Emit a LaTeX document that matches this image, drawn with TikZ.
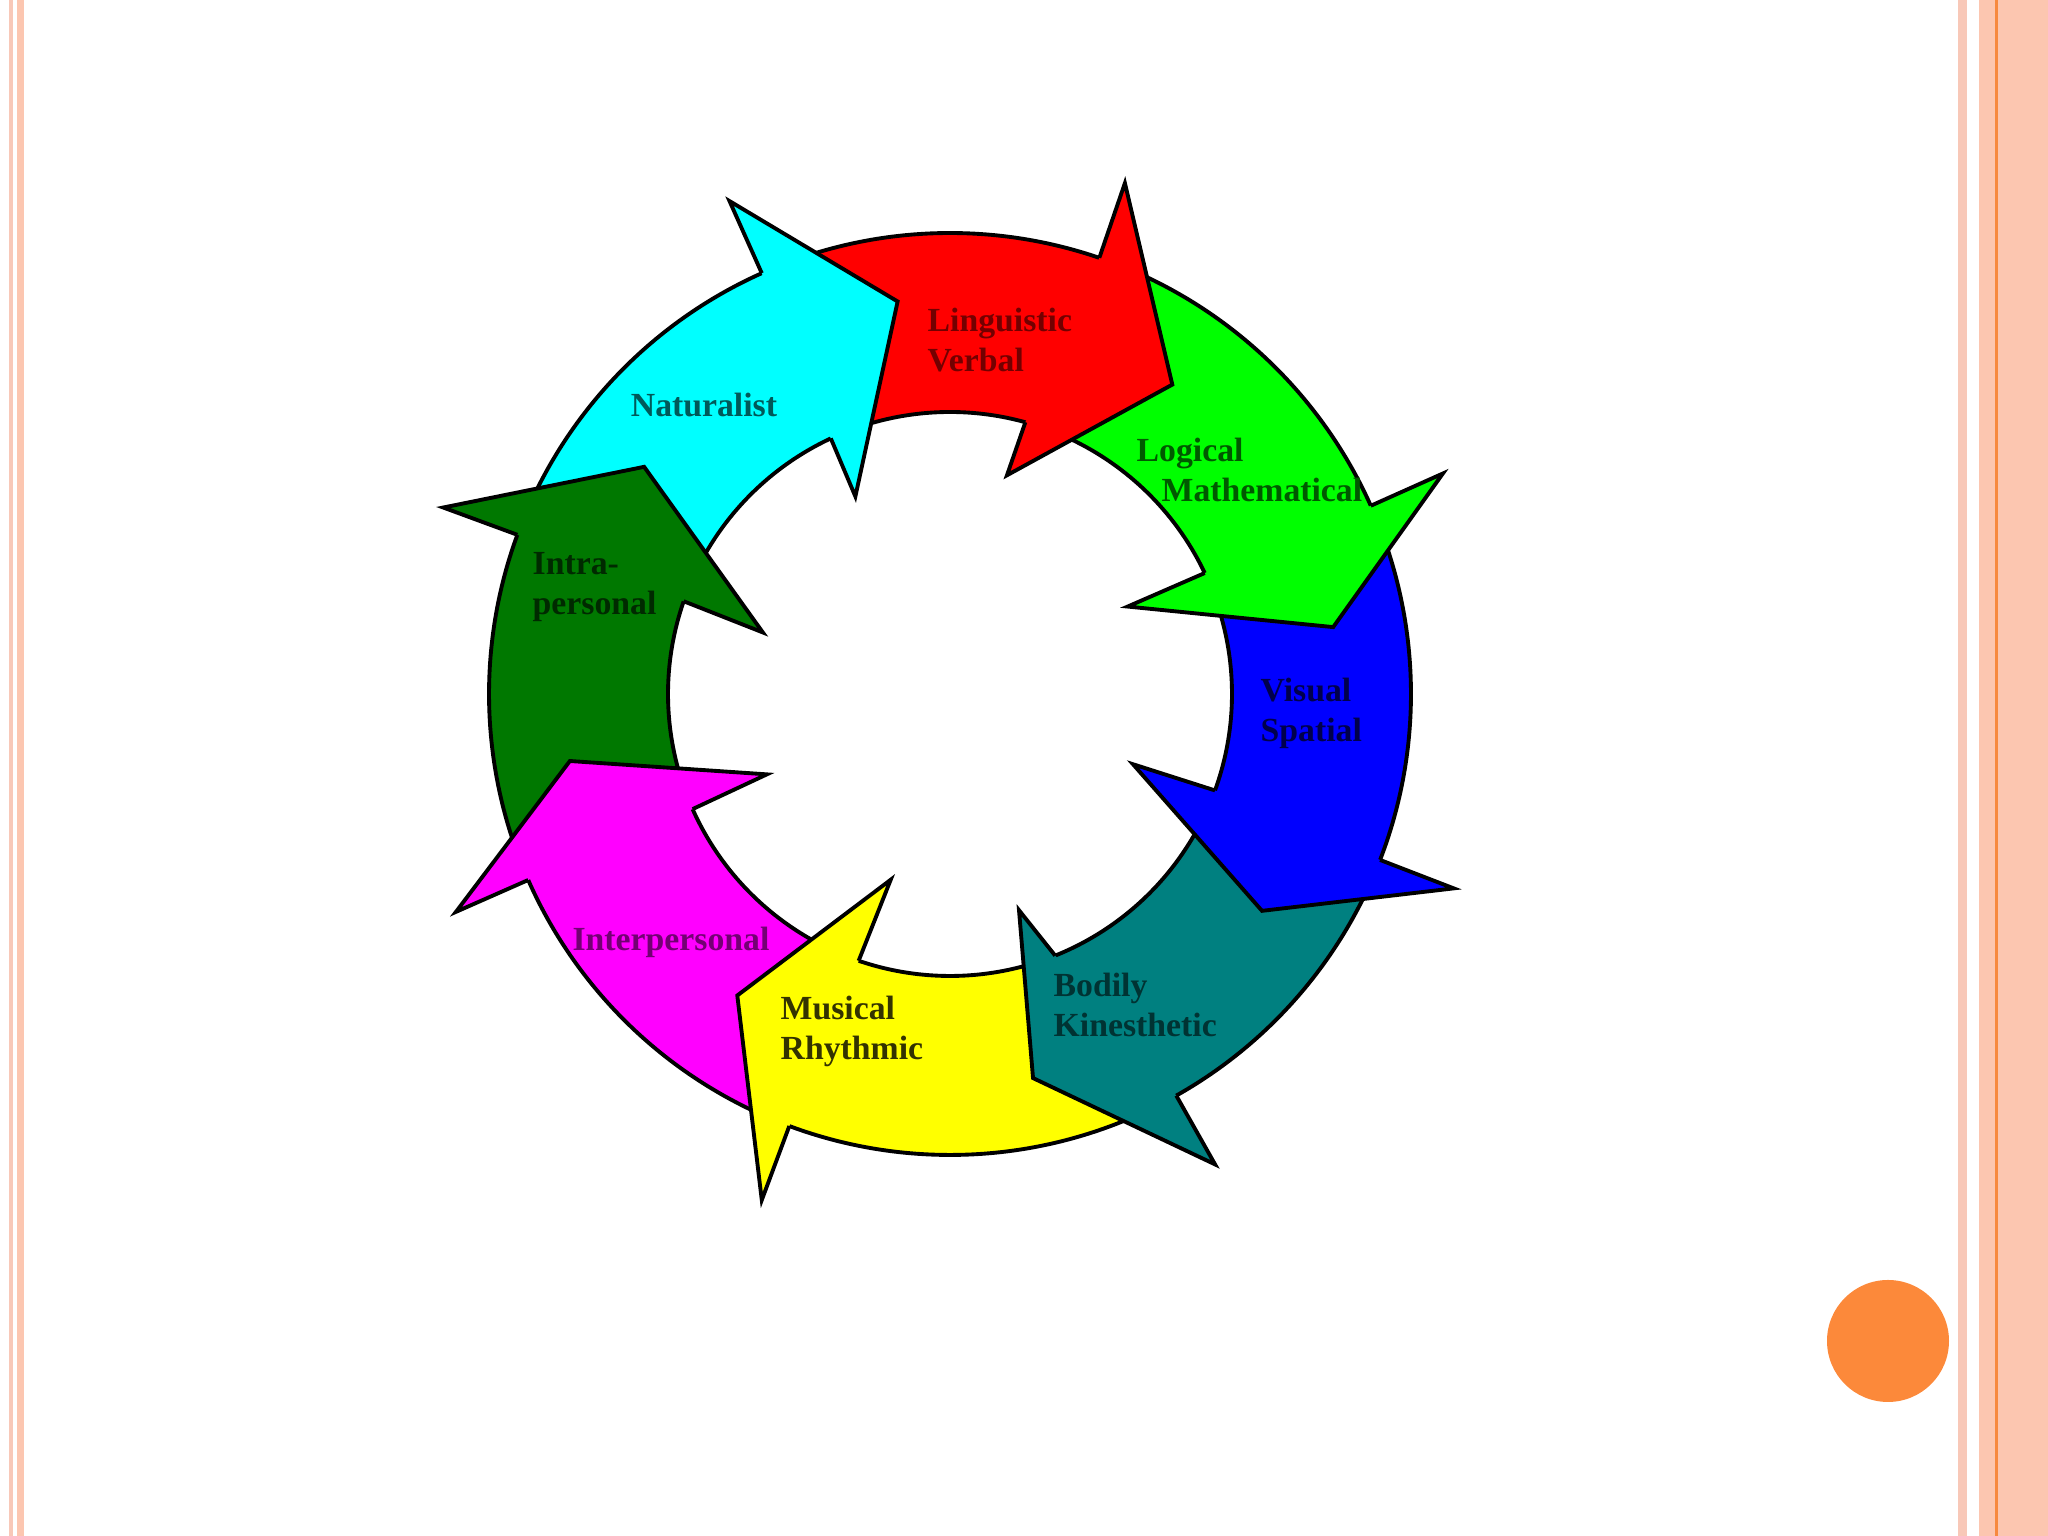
\documentclass[tikz,border=0pt]{standalone}
\usepackage{fontspec}
\setmainfont{Liberation Serif}
\usetikzlibrary{positioning}
\definecolor{lingred}{HTML}{FF0000}
\definecolor{logicgreen}{HTML}{00FF00}
\definecolor{visualblue}{HTML}{0000FF}
\definecolor{bodilyteal}{HTML}{008080}
\definecolor{musicyellow}{HTML}{FFFF00}
\definecolor{intermagenta}{HTML}{FF00FF}
\definecolor{intragreen}{HTML}{007800}
\definecolor{naturcyan}{HTML}{00FFFF}
\definecolor{framepink}{HTML}{F8C8B8}
\definecolor{framesalmon}{HTML}{FCC6B0}
\definecolor{frameorange}{HTML}{F7893F}
\definecolor{dotorange}{HTML}{FC893A}
% colour / outer base / inner base / tip angle / tip radius / barb angle / barb radius
\newcommand{\ringarrows}{lingred/71.1/74.5/54.3/3.81/75.4/2.26,
  logicgreen/24.1/25.4/9.9/3.89/26.2/1.98,
  visualblue/-21.1/-20.0/-34.8/3.80/-21.0/1.96,
  bodilyteal/-60.6/-68.1/-77.8/3.93/-72.3/2.27,
  musicyellow/-110.4/-108.9/-125.2/3.69/-107.7/1.95,
  intermagenta/-156.2/-155.9/-170.0/3.86/-156.3/2.00,
  intragreen/-200.2/-199.2/-216.6/3.81/-198.2/1.97,
  naturcyan/-245.9/-245.0/-262.4/3.96/-244.4/2.19}
\tikzset{
  % arrow outline
  ringline/.style={
    draw=black, line width=1.1pt
  },
  % label text
  lbl/.style={font=\bfseries\fontsize{9.6}{11.4}\selectfont,
    inner sep=0pt, align=left, anchor=west},
}

\begin{document}
\begin{tikzpicture}
  \useasboundingbox (0,0) rectangle (20.48,15.36);
  % slide frame
  \fill[framepink] (0.09,0) rectangle (0.13,15.36);
  \fill[framesalmon] (0.17,0) rectangle (0.24,15.36);
  \fill[framepink] (19.58,0) rectangle (19.67,15.36);
  \fill[framesalmon] (19.79,0) rectangle (20.48,15.36);
  \fill[frameorange] (19.95,0) rectangle (19.98,15.36);
  \fill[dotorange] (18.88,1.95) circle (0.61);

  \begin{scope}[shift={(9.50,8.42)}]
    % bodies, tails tucked under the previous head
    \foreach \col/\bo/\bi/\tipa/\tipr/\barba/\barbr
      [remember=\bo as \pbo (initially 114.1),
       remember=\bi as \pbi (initially 115.0)] in \ringarrows
    {
      \filldraw[ringline, fill=\col]
        ({\pbo-3}:4.61) arc[start angle={\pbo-3}, end angle={\bo-2}, radius=4.61]
        -- ({\bi-2}:2.82) arc[start angle={\bi-2}, end angle={\pbi-3}, radius=2.82]
        -- cycle;
    }
    % heads on top
    \foreach \col/\bo/\bi/\tipa/\tipr/\barba/\barbr in \ringarrows
    {
      \filldraw[ringline, fill=\col]
        (\bo:4.61) -- (\bo:5.40) -- (\tipa:\tipr) -- (\barba:\barbr) -- (\bi:2.82);
    }
  \end{scope}

  \node (ling) [lbl, text=lingred!45!black] at (9.27,11.96) {Linguistic\\Verbal};
  \node (logic) [lbl, text=logicgreen!35!black] at (11.36,10.66)
        {Logical\\\hspace*{0.25cm}Mathematical};
  \node (visual) [lbl, text=visualblue!30!black] at (12.60,8.23) {Visual\\Spatial};
  \node (bodily) [lbl, text=bodilyteal!40!black] at (10.53,5.31) {Bodily\\Kinesthetic};
  \node (music) [lbl, text=musicyellow!20!black] at (7.80,5.05) {Musical\\Rhythmic};
  \node (inter) [lbl, anchor=center, text=intermagenta!45!black] at (6.71,5.94)
        {Interpersonal};
  \node (intra) [lbl, text=intragreen!35!black] at (5.32,9.49) {Intra-\\personal};
  \node (natur) [lbl, anchor=center, text=naturcyan!35!black] at (7.04,11.31)
        {Naturalist};
\end{tikzpicture}
\end{document}
